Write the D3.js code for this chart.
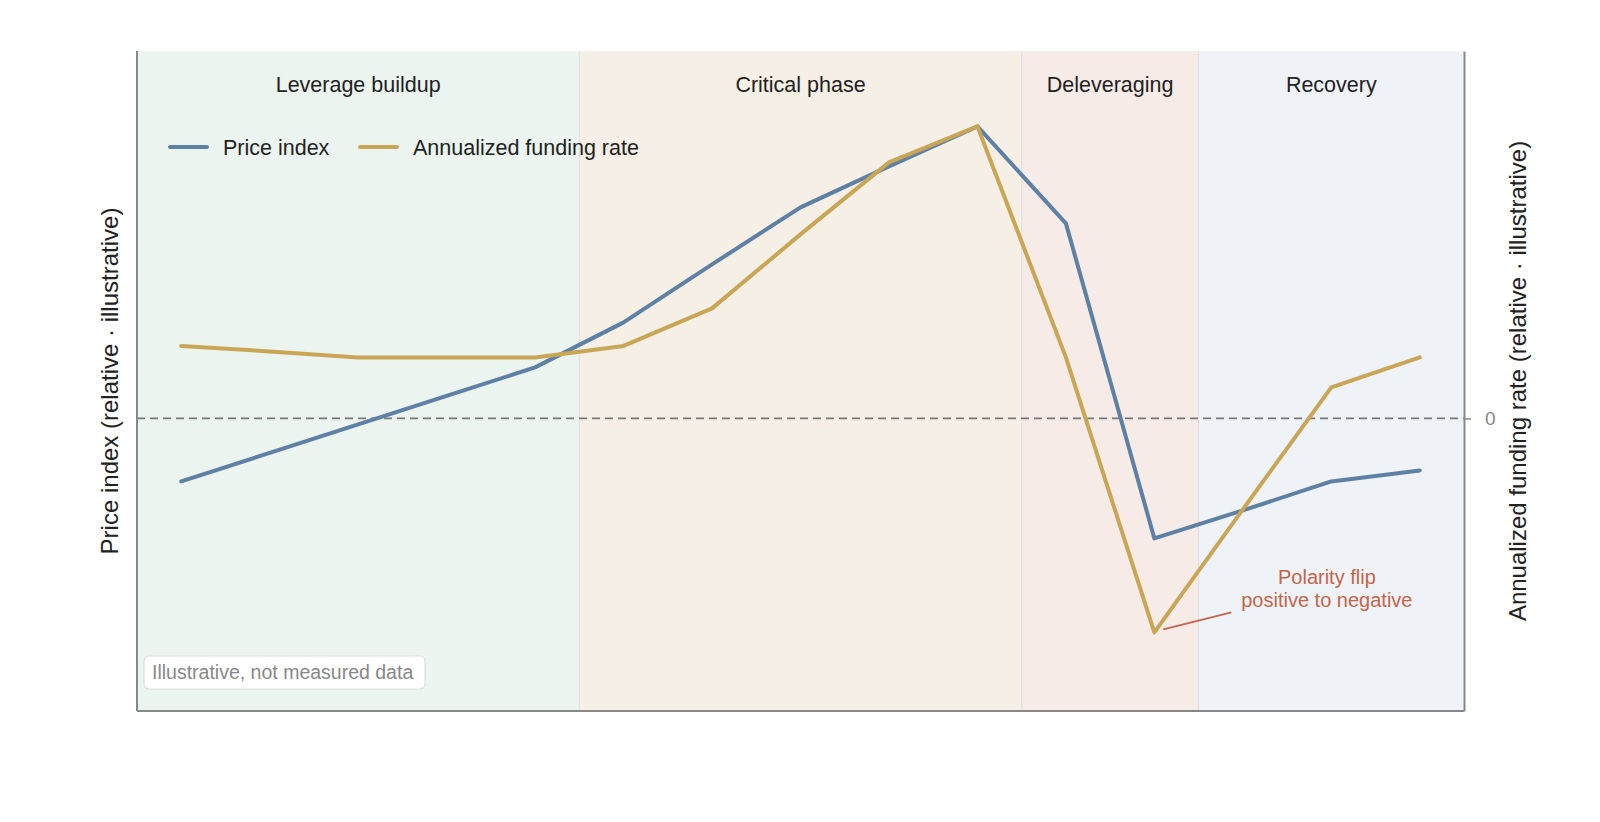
<!DOCTYPE html>
<html>
<head>
<meta charset="utf-8">
<script src="https://cdn.jsdelivr.net/npm/d3@7"></script>
<style>
  body { margin: 0; background: #fff; }
  svg { font-family: "Liberation Sans", Arial, sans-serif; }
</style>
</head>
<body>
<div id="wrapper"></div>
<script>
// data (relative, illustrative units)
const steps = d3.range(15)
const priceIndex = [-0.63, -0.345, -0.06, 0.225, 0.51, 0.96, 1.54, 2.11, 2.52, 2.92, 1.95, -1.2, -0.92, -0.63, -0.52]
const fundingRate = [0.725, 0.67, 0.61, 0.61, 0.61, 0.725, 1.1, 1.84, 2.56, 2.92, 0.61, -2.14, -0.91, 0.31, 0.61]

const phaseNames = ['Leverage buildup', 'Critical phase', 'Deleveraging', 'Recovery']
const phaseStart = [-0.5, 4.5, 9.5, 11.5]
const phaseEnd = [4.5, 9.5, 11.5, 14.5]
const phaseColors = ['#ecf4ef', '#f5efe5', '#f6ebe7', '#eff3f8']

const seriesNames = ['Price index', 'Annualized funding rate']
const seriesColors = ['#5e80a5', '#c9a656']

const rightTicks = [0]

const dimensions = {
  width: 1600,
  height: 822,
  margin: { top: 51, right: 136, bottom: 111, left: 137 },
}
dimensions.boundedWidth = dimensions.width - dimensions.margin.left - dimensions.margin.right
dimensions.boundedHeight = dimensions.height - dimensions.margin.top - dimensions.margin.bottom

const svg = d3.select('#wrapper').append('svg')
  .attr('width', dimensions.width)
  .attr('height', dimensions.height)

const bounds = svg.append('g')
  .attr('transform', `translate(${dimensions.margin.left},${dimensions.margin.top})`)

// scales
const xScale = d3.scaleLinear().domain([-0.5, 14.5]).range([0, dimensions.boundedWidth])
const yPrice = d3.scaleLinear().domain([-2.926, 3.674]).range([dimensions.boundedHeight, 0])
const yFunding = d3.scaleLinear().domain([-2.926, 3.674]).range([dimensions.boundedHeight, 0])

// phase bands
bounds.selectAll('.phase')
  .data(phaseNames)
  .join('rect')
  .attr('class', 'phase')
  .attr('x', (d, i) => xScale(phaseStart[i]))
  .attr('y', 0)
  .attr('width', (d, i) => xScale(phaseEnd[i]) - xScale(phaseStart[i]))
  .attr('height', dimensions.boundedHeight)
  .attr('fill', (d, i) => phaseColors[i])

// thin separators between phases
bounds.selectAll('.phase-edge')
  .data(phaseStart.slice(1))
  .join('line')
  .attr('class', 'phase-edge')
  .attr('x1', (d) => xScale(d))
  .attr('x2', (d) => xScale(d))
  .attr('y1', 0)
  .attr('y2', dimensions.boundedHeight)
  .attr('stroke', '#e2e2e2')
  .attr('stroke-width', 1.2)

bounds.selectAll('.phase-label')
  .data(phaseNames)
  .join('text')
  .attr('x', (d, i) => xScale((phaseStart[i] + phaseEnd[i]) / 2))
  .attr('y', 41)
  .attr('text-anchor', 'middle')
  .attr('font-size', 21.5)
  .attr('fill', '#222')
  .text((d) => d)

// zero line
bounds.append('line')
  .attr('x1', 0)
  .attr('x2', dimensions.boundedWidth)
  .attr('y1', yFunding(0))
  .attr('y2', yFunding(0))
  .attr('stroke', '#777')
  .attr('stroke-width', 1.8)
  .attr('stroke-dasharray', '8,5')

// lines
const priceLine = d3.line().x((d, i) => xScale(steps[i])).y((d) => yPrice(d))
const fundingLine = d3.line().x((d, i) => xScale(steps[i])).y((d) => yFunding(d))

bounds.append('path')
  .attr('d', priceLine(priceIndex))
  .attr('fill', 'none')
  .attr('stroke', seriesColors[0])
  .attr('stroke-width', 4)
  .attr('stroke-linejoin', 'round')
  .attr('stroke-linecap', 'round')

bounds.append('path')
  .attr('d', fundingLine(fundingRate))
  .attr('fill', 'none')
  .attr('stroke', seriesColors[1])
  .attr('stroke-width', 4)
  .attr('stroke-linejoin', 'round')
  .attr('stroke-linecap', 'round')

// axes (spines)
const spine = '#888'
bounds.append('line').attr('x1', 0).attr('x2', 0).attr('y1', 0).attr('y2', dimensions.boundedHeight)
  .attr('stroke', spine).attr('stroke-width', 2)
bounds.append('line').attr('x1', 0).attr('x2', dimensions.boundedWidth)
  .attr('y1', dimensions.boundedHeight).attr('y2', dimensions.boundedHeight)
  .attr('stroke', spine).attr('stroke-width', 2)

const rightAxis = bounds.append('g')
  .attr('transform', `translate(${dimensions.boundedWidth},0)`)
  .call(d3.axisRight(yFunding).tickValues(rightTicks).tickFormat(d3.format('d'))
    .tickSize(7).tickPadding(14).tickSizeOuter(0))
rightAxis.select('.domain').attr('stroke', spine).attr('stroke-width', 2)
rightAxis.selectAll('.tick line').attr('stroke', spine).attr('stroke-width', 1.5)
rightAxis.selectAll('.tick text')
  .attr('fill', '#888')
  .attr('font-size', 19)
  .attr('font-family', '"Liberation Sans", Arial, sans-serif')

// axis labels
svg.append('text')
  .attr('transform', `translate(118,${dimensions.margin.top + dimensions.boundedHeight / 2}) rotate(-90)`)
  .attr('text-anchor', 'middle')
  .attr('font-size', 24)
  .attr('fill', '#222')
  .text('Price index (relative · illustrative)')

svg.append('text')
  .attr('transform', `translate(1526,${dimensions.margin.top + dimensions.boundedHeight / 2}) rotate(-90)`)
  .attr('text-anchor', 'middle')
  .attr('font-size', 24)
  .attr('fill', '#222')
  .text('Annualized funding rate (relative · illustrative)')

// legend
const legend = bounds.append('g').attr('transform', 'translate(33,96)')
const legendOffsets = [0, 190]
seriesNames.forEach((name, i) => {
  const g = legend.append('g').attr('transform', `translate(${legendOffsets[i]},0)`)
  g.append('line').attr('x1', 0).attr('x2', 37).attr('y1', 0).attr('y2', 0)
    .attr('stroke', seriesColors[i]).attr('stroke-width', 4).attr('stroke-linecap', 'round')
  g.append('text').attr('x', 53).attr('y', 7.5)
    .attr('font-size', 21.5).attr('fill', '#222').text(name)
})

// annotation
const annoColor = '#c2654a'
const ax = xScale(11)
const ay = yFunding(fundingRate[11])
const tx = xScale(12.95)
const textY = ay - 48
bounds.append('line')
  .attr('x1', ax + 9).attr('y1', ay - 3)
  .attr('x2', ax + 77).attr('y2', ay - 20)
  .attr('stroke', annoColor).attr('stroke-width', 1.8)
const anno = bounds.append('text')
  .attr('text-anchor', 'middle')
  .attr('font-size', 20)
  .attr('fill', annoColor)
anno.append('tspan').attr('x', tx).attr('y', textY).text('Polarity flip')
anno.append('tspan').attr('x', tx).attr('y', textY + 22.5).text('positive to negative')

// note box
const note = bounds.append('g').attr('transform', `translate(7,${dimensions.boundedHeight - 55})`)
note.append('rect')
  .attr('width', 281).attr('height', 33).attr('rx', 5)
  .attr('fill', '#fff').attr('stroke', '#ddd').attr('stroke-width', 1.2)
note.append('text')
  .attr('x', 8).attr('y', 23)
  .attr('font-size', 19.5).attr('fill', '#888')
  .text('Illustrative, not measured data')
</script>
</body>
</html>
